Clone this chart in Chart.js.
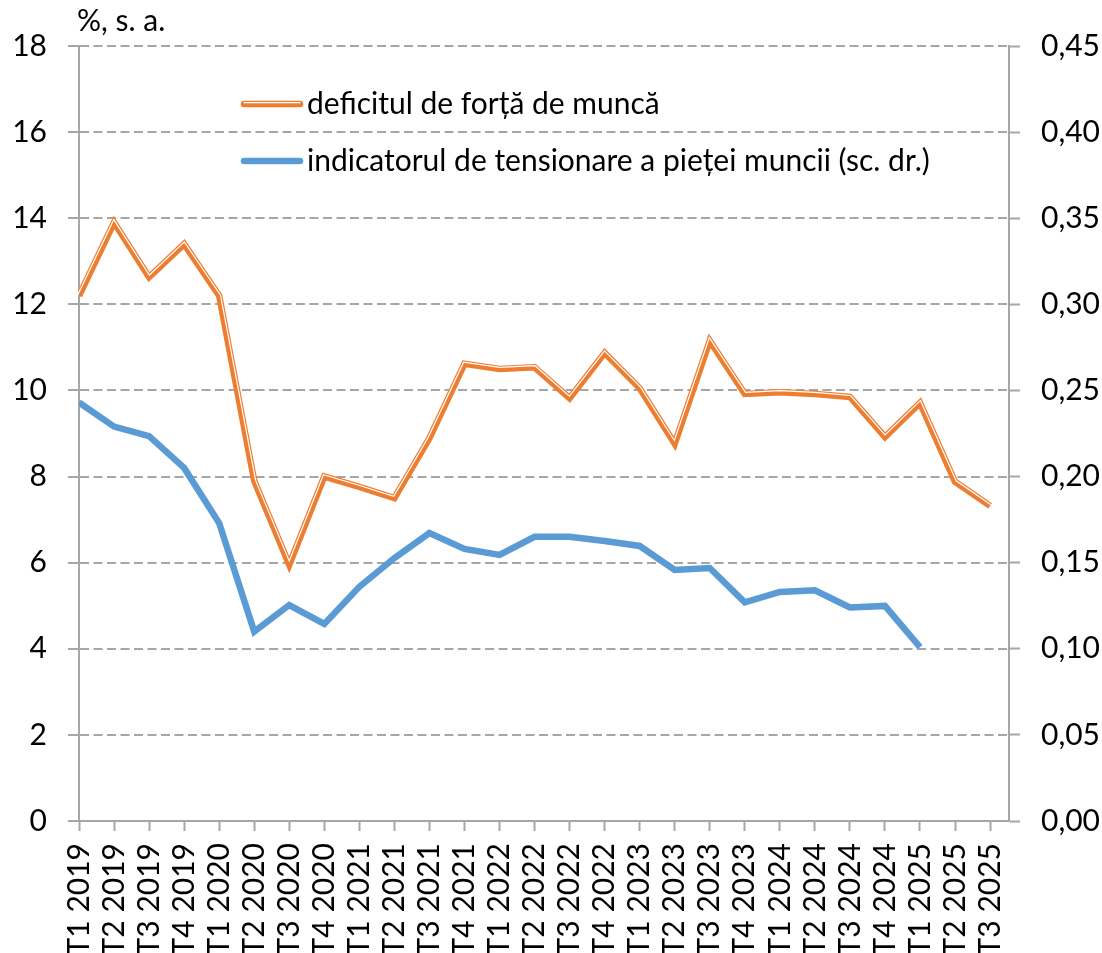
<!DOCTYPE html>
<html>
<head>
<meta charset="utf-8">
<script src="https://cdn.jsdelivr.net/npm/chart.js@4.4.1/dist/chart.umd.min.js"></script>
<style>
  html, body { margin: 0; padding: 0; background: #fff; }
  #wrap { width: 1102px; height: 953px; position: relative; }
</style>
</head>
<body>
<div id="wrap"><canvas id="c" width="1102" height="953"></canvas></div>
<script>
const categories = ["T1 2019","T2 2019","T3 2019","T4 2019","T1 2020","T2 2020","T3 2020","T4 2020","T1 2021","T2 2021","T3 2021","T4 2021","T1 2022","T2 2022","T3 2022","T4 2022","T1 2023","T2 2023","T3 2023","T4 2023","T1 2024","T2 2024","T3 2024","T4 2024","T1 2025","T2 2025","T3 2025"];
const deficitValues = [12.2, 13.9, 12.63, 13.4, 12.2, 7.9, 5.95, 8.0, 7.76, 7.5, 8.89, 10.62, 10.5, 10.54, 9.82, 10.87, 10.05, 8.76, 11.15, 9.92, 9.96, 9.92, 9.85, 8.92, 9.71, 7.88, 7.32];
const tensionValues = [0.243, 0.229, 0.2235, 0.205, 0.173, 0.110, 0.1254, 0.1144, 0.136, 0.1527, 0.1672, 0.158, 0.1545, 0.165, 0.165, 0.1626, 0.1597, 0.1458, 0.1469, 0.127, 0.133, 0.134, 0.124, 0.1249, 0.101, null, null];
const seriesNames = ["deficitul de forță de muncă", "indicatorul de tensionare a pieței muncii (sc. dr.)"];
const leftTicks = { min: 0, max: 18, step: 2 };
const rightTicks = { min: 0, max: 0.45, step: 0.05 };
const unitLabel = "%, s. a.";

const FONT = "Lato";
const FS = 30;
const ORANGE = "#ED7D31";
const BLUE = "#5B9BD5";
const GRAY = "#A6A6A6";
const WHITE_OFF = 1.45;   // white inner line shifted toward the "upper" side (thin-thick compound line)
const WHITE_W = 1.2;

const toPoints = arr => arr.map((v, i) => ({ x: i, y: v }));

function offsetPolyline(pts, off) {
  const norm = (a, b) => {
    const dx = b.x - a.x, dy = b.y - a.y, l = Math.hypot(dx, dy) || 1;
    return { x: dy / l, y: -dx / l };
  };
  const out = [];
  for (let i = 0; i < pts.length; i++) {
    let n;
    if (i === 0) n = norm(pts[0], pts[1]);
    else if (i === pts.length - 1) n = norm(pts[i - 1], pts[i]);
    else {
      const n1 = norm(pts[i - 1], pts[i]), n2 = norm(pts[i], pts[i + 1]);
      let mx = n1.x + n2.x, my = n1.y + n2.y;
      const ml = Math.hypot(mx, my) || 1;
      mx /= ml; my /= ml;
      const c = Math.max(mx * n1.x + my * n1.y, 0.25);
      out.push({ x: pts[i].x + mx * off / c, y: pts[i].y + my * off / c });
      continue;
    }
    out.push({ x: pts[i].x + n.x * off, y: pts[i].y + n.y * off });
  }
  return out;
}

const doubleLinePlugin = {
  id: "doubleLine",
  afterDatasetsDraw(chart) {
    const meta = chart.getDatasetMeta(0);
    const pts = offsetPolyline(meta.data.map(p => ({ x: p.x, y: p.y })), WHITE_OFF);
    const ctx = chart.ctx;
    ctx.save();
    ctx.strokeStyle = "#fff";
    ctx.lineWidth = WHITE_W;
    ctx.lineJoin = "miter";
    ctx.beginPath();
    pts.forEach((p, i) => { if (i === 0) ctx.moveTo(p.x, p.y); else ctx.lineTo(p.x, p.y); });
    ctx.stroke();
    ctx.restore();
  }
};

const overlayPlugin = {
  id: "overlay",
  afterDraw(chart) {
    const ctx = chart.ctx;
    ctx.save();
    ctx.fillStyle = "#000";
    ctx.font = FS + "px " + FONT;
    ctx.textBaseline = "alphabetic";
    ctx.textAlign = "left";
    ctx.fillText(unitLabel, 77, 31);

    const items = [
      { y: 104, color: ORANGE, dbl: true, text: chart.data.datasets[0].label },
      { y: 161, color: BLUE, dbl: false, text: chart.data.datasets[1].label }
    ];
    items.forEach(it => {
      ctx.lineCap = "round";
      ctx.strokeStyle = it.color;
      ctx.lineWidth = 6.5;
      ctx.beginPath(); ctx.moveTo(244, it.y); ctx.lineTo(300, it.y); ctx.stroke();
      if (it.dbl) {
        ctx.strokeStyle = "#fff"; ctx.lineWidth = WHITE_W;
        ctx.beginPath(); ctx.moveTo(244, it.y - WHITE_OFF); ctx.lineTo(300, it.y - WHITE_OFF); ctx.stroke();
      }
      ctx.fillStyle = "#000";
      ctx.textBaseline = "middle";
      ctx.fillText(it.text, 307, it.y);
    });
    ctx.restore();
  }
};

new Chart(document.getElementById("c"), {
  type: "line",
  data: {
    datasets: [
      {
        label: seriesNames[0],
        data: toPoints(deficitValues),
        yAxisID: "y",
        borderColor: ORANGE,
        borderWidth: 6.5,
        pointRadius: 0,
        tension: 0,
        fill: false
      },
      {
        label: seriesNames[1],
        data: toPoints(tensionValues),
        yAxisID: "y2",
        borderColor: BLUE,
        borderWidth: 6.5,
        pointRadius: 0,
        tension: 0,
        fill: false,
        spanGaps: false
      }
    ]
  },
  options: {
    responsive: false,
    animation: false,
    devicePixelRatio: 1,
    layout: { padding: { top: 46, left: 0, right: 0, bottom: 0 } },
    plugins: { legend: { display: false }, tooltip: { enabled: false }, title: { display: false } },
    scales: {
      x: {
        type: "linear",
        min: 0,
        max: 26.54,
        afterBuildTicks: s => { s.ticks = categories.map((c, i) => ({ value: i })); },
        afterFit: s => { s.height = 132; },
        ticks: {
          stepSize: 1,
          autoSkip: false,
          minRotation: 90,
          maxRotation: 90,
          padding: 12,
          color: "#000",
          font: { family: FONT, size: FS },
          callback: v => categories[v] !== undefined ? categories[v] : ""
        },
        grid: { drawOnChartArea: false, drawTicks: true, tickLength: 10, tickColor: GRAY, tickWidth: 2, color: GRAY },
        border: { display: true, color: GRAY, width: 2 }
      },
      y: {
        position: "left",
        min: leftTicks.min,
        max: leftTicks.max,
        afterFit: s => { s.width = 79; },
        ticks: { stepSize: leftTicks.step, padding: 21, color: "#000", font: { family: FONT, size: FS } },
        grid: { color: GRAY, lineWidth: 2, tickLength: 11, tickColor: GRAY, tickWidth: 2 },
        border: { display: true, color: GRAY, width: 2, dash: [9, 4.5] }
      },
      y2: {
        position: "right",
        min: rightTicks.min,
        max: rightTicks.max,
        afterFit: s => { s.width = 93; },
        ticks: {
          stepSize: rightTicks.step, padding: 21, color: "#000", font: { family: FONT, size: FS },
          callback: v => v.toFixed(2).replace(".", ",")
        },
        grid: { drawOnChartArea: false, tickLength: 11, tickColor: GRAY, tickWidth: 2, color: GRAY },
        border: { display: true, color: GRAY, width: 2 }
      }
    }
  },
  plugins: [doubleLinePlugin, overlayPlugin]
});
</script>
</body>
</html>
